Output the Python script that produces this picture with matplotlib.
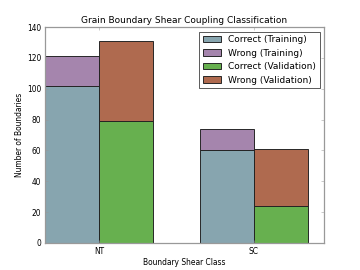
import numpy as np
import matplotlib
matplotlib.use('Agg')
import matplotlib.pyplot as plt

# data
classes = ['NT', 'SC']
train_correct = [102, 60]
train_wrong = [19, 14]
val_correct = [79, 24]
val_wrong = [52, 37]

plt.rcParams['font.family'] = 'DejaVu Sans'
fig, ax = plt.subplots(figsize=(8, 6), dpi=45)
fig.subplots_adjust(left=0.125, right=0.9, bottom=0.1, top=0.9)

x = np.arange(len(classes))
w = 0.35
edge = '#222222'
ax.bar(x - w / 2, train_correct, w, color='#87a5af', edgecolor=edge, lw=1.5, label='Correct (Training)')
ax.bar(x - w / 2, train_wrong, w, bottom=train_correct, color='#a585ad', edgecolor=edge, lw=1.5, label='Wrong (Training)')
ax.bar(x + w / 2, val_correct, w, color='#67b04f', edgecolor=edge, lw=1.5, label='Correct (Validation)')
ax.bar(x + w / 2, val_wrong, w, bottom=val_correct, color='#af6a4f', edgecolor=edge, lw=1.5, label='Wrong (Validation)')

ax.set_xlim(-w, 1 + 1.3 * w)
ax.set_ylim(0, 140)
ax.set_xticks(x)
ax.set_xticklabels(classes, fontsize=12)
ax.tick_params(axis='y', labelsize=12)
ax.tick_params(direction='in', top=True, right=True, length=5, color='#999999', pad=6)
for s in ax.spines.values():
    s.set_color('#999999')
    s.set_linewidth(2)

ax.set_xlabel('Boundary Shear Class', fontsize=12)
ax.set_ylabel('Number of Boundaries', fontsize=12)
ax.set_title('Grain Boundary Shear Coupling Classification', fontsize=14.4)
leg = ax.legend(loc='upper right', fontsize=14.4, fancybox=False, framealpha=1,
                handlelength=2, borderaxespad=0.5)
leg.get_frame().set_edgecolor('black')

fig.savefig('out.png', dpi=45)
